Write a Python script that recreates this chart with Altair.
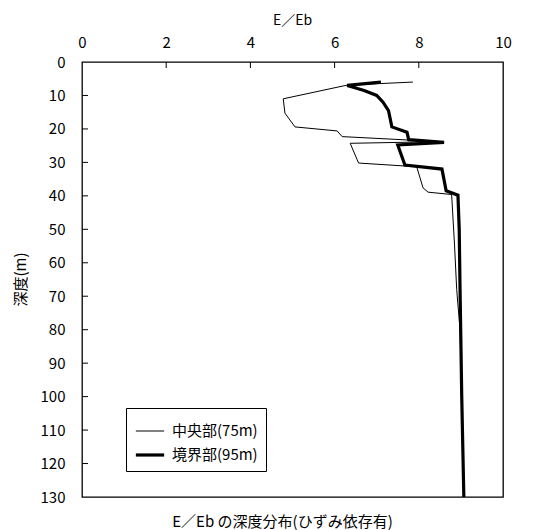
import altair as alt
import pandas as pd

series_names = ["中央部(75m)", "境界部(95m)"]

center_x = [7.86, 6.3, 4.78, 4.82, 5.06, 6.06, 6.18, 8.5, 6.37, 6.57, 7.95, 8.1, 8.22, 8.78, 8.85, 8.9, 8.98, 9.02, 9.07]
center_depth = [6.0, 6.9, 11.0, 15.3, 19.4, 20.6, 22.3, 23.8, 24.3, 30.2, 31.3, 37.6, 38.9, 39.6, 55, 68, 80, 100, 130]

boundary_x = [7.1, 6.3, 6.7, 7.0, 7.15, 7.28, 7.36, 7.72, 7.76, 8.6, 7.5, 7.67, 8.55, 8.65, 8.93, 8.96, 8.98, 9.02, 9.07]
boundary_depth = [6.0, 7.0, 8.5, 10.0, 12.0, 14.5, 19.4, 21.0, 23.2, 24.0, 24.8, 30.8, 32.0, 38.5, 39.8, 50, 68, 100, 130]

x_tick_values = [0, 2, 4, 6, 8, 10]
y_tick_values = [0, 10, 20, 30, 40, 50, 60, 70, 80, 90, 100, 110, 120, 130]
x_inner_ticks = [2, 4, 6, 8]
y_inner_ticks = [10, 20, 30, 40, 50, 60, 70, 80, 90, 100, 110, 120]

rows = []
for i, (x, d) in enumerate(zip(center_x, center_depth)):
    rows.append({"series": series_names[0], "E": x, "depth": d, "idx": i})
for i, (x, d) in enumerate(zip(boundary_x, boundary_depth)):
    rows.append({"series": series_names[1], "E": x, "depth": d, "idx": i})
df = pd.DataFrame(rows)

FONT = "Noto Sans CJK JP"

xscale = alt.Scale(domain=[0, 10], nice=False, zero=False)
yscale = alt.Scale(domain=[0, 130], nice=False, reverse=True, zero=False)

xaxis = alt.Axis(orient="top", values=x_tick_values, ticks=False, domain=False,
                 grid=False, labelPadding=12, labelFlush=False, labelOverlap=False,
                 labelFontSize=15, labelFont=FONT, title="E／Eb", titleFont=FONT,
                 titleFontSize=14, titleFontWeight="normal", titleX=210, titleY=-42,
                 titleBaseline="middle")
yaxis = alt.Axis(values=y_tick_values, ticks=False, domain=False, grid=False,
                 labelPadding=17, labelFontSize=15, labelFont=FONT,
                 labelBaseline="middle", labelOverlap=False, labelFlush=False,
                 title="深度(m)", titleFont=FONT, titleFontSize=15,
                 titleFontWeight="normal", titleX=-62, titleY=217,
                 titleBaseline="middle", titleAngle=-90)

lines = alt.Chart(df).mark_line(color="black", strokeJoin="miter").encode(
    x=alt.X("E:Q", scale=xscale, axis=xaxis, title="E／Eb"),
    y=alt.Y("depth:Q", scale=yscale, axis=yaxis, title="深度(m)"),
    strokeWidth=alt.StrokeWidth("series:N",
                                scale=alt.Scale(domain=series_names, range=[1.0, 3.2]),
                                legend=alt.Legend(title=None, orient="none", legendX=44, legendY=346,
                                                  strokeColor="black", fillColor="white",
                                                  padding=8, labelFont=FONT, labelFontSize=15,
                                                  symbolType="stroke", symbolSize=800,
                                                  symbolStrokeColor="black", rowPadding=0,
                                                  labelOffset=6, cornerRadius=0)),
    detail="series:N",
    order="idx:Q",
)

xt = pd.DataFrame({"E": x_inner_ticks})
x_ticks = alt.Chart(xt).mark_rule(color="black", strokeWidth=1).encode(
    x=alt.X("E:Q", scale=xscale, axis=xaxis, title="E／Eb"), y=alt.value(0), y2=alt.value(6)
)

yt = pd.DataFrame({"depth": y_inner_ticks})
y_ticks = alt.Chart(yt).mark_rule(color="black", strokeWidth=1).encode(
    y=alt.Y("depth:Q", scale=yscale, axis=yaxis, title="深度(m)"), x=alt.value(0), x2=alt.value(6)
)

chart = alt.layer(lines, x_ticks, y_ticks).properties(
    width=421, height=435,
    title=alt.TitleParams("E／Eb の深度分布(ひずみ依存有)", orient="bottom", anchor="middle",
                          offset=10, dx=-10, font=FONT, fontSize=15, fontWeight="normal",
                          color="black"),
    autosize=alt.AutoSizeParams(type="none"),
    padding={"left": 74, "top": 54, "right": 25, "bottom": 33},
).configure_view(stroke="black", strokeWidth=1.3).configure_axis(
    labelColor="black", titleColor="black"
)

chart.save("out.html", embed_options={"renderer": "svg", "actions": False})
